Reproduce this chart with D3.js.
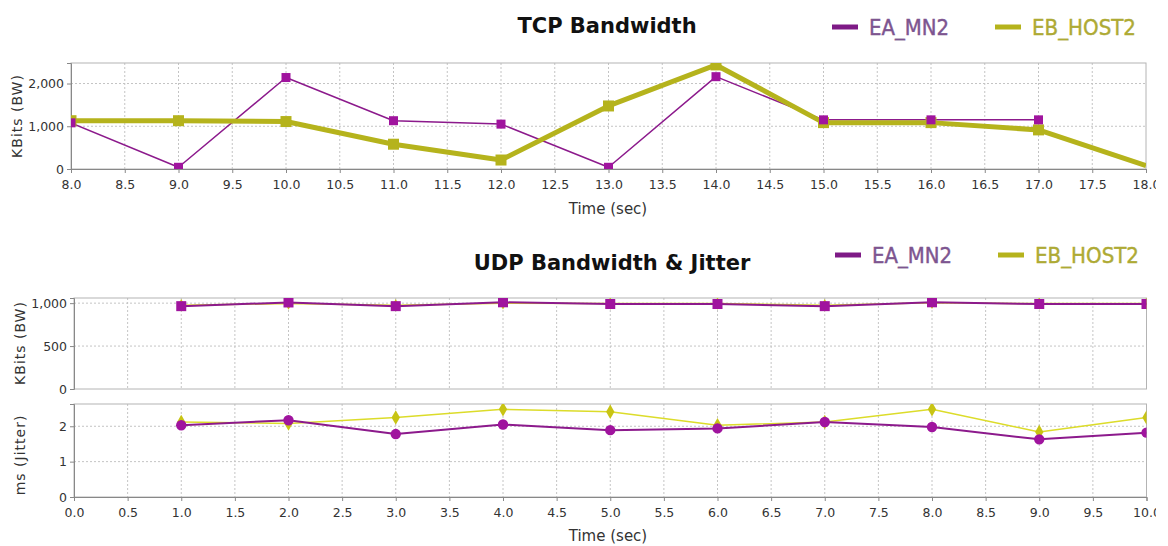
<!DOCTYPE html>
<html>
<head>
<meta charset="utf-8">
<script src="https://cdn.jsdelivr.net/npm/d3@7"></script>
<style>
  html, body { margin: 0; padding: 0; background: #fff; }
  svg { display: block; }
  .tick text { font-family: "DejaVu Sans", sans-serif; font-size: 12.5px; fill: #333; }
  .axis path, .axis line { stroke: #888; }
</style>
</head>
<body>
<svg id="chart" width="1168" height="546"></svg>
<script>
// ---- TCP bandwidth (KBits) ----
const tcpTime = [8, 9, 10, 11, 12, 13, 14, 15, 16, 17, 18];
const tcpEA = [1080, 40, 2140, 1130, 1050, 40, 2160, 1150, 1150, 1150, null];
const tcpEB = [1130, 1130, 1110, 580, 210, 1475, 2435, 1085, 1085, 915, 80];

// ---- UDP bandwidth (KBits) and jitter (ms) ----
const udpTime = [1, 2, 3, 4, 5, 6, 7, 8, 9, 10];
const udpBwEA = [965, 1008, 965, 1010, 990, 990, 965, 1010, 990, 990];
const udpBwEB = [975, 995, 975, 1000, 995, 995, 975, 1005, 995, 995];
const jitEA = [2.03, 2.17, 1.78, 2.05, 1.89, 1.94, 2.12, 1.98, 1.63, 1.82];
const jitEB = [2.12, 2.08, 2.25, 2.48, 2.41, 2.03, 2.12, 2.48, 1.84, 2.25];

const seriesNames = ["EA_MN2", "EB_HOST2"];
const tcpXTicks = d3.range(8, 18.01, 0.5);
const udpXTicks = d3.range(0, 10.01, 0.5);
const tcpYTicks = [0, 1000, 2000];
const bwYTicks = [0, 500, 1000];
const jitYTicks = [0, 1, 2];

const PURPLE_LINE = "#8c1a8c";
const PURPLE_MARK = "#a0149e";
const OLIVE = "#b5b31c";
const YELLOW = "#dcdc2a";
const YELLOW_MARK = "#c8c414";

const svg = d3.select("#chart");
const defs = svg.append("defs");
defs.append("clipPath").attr("id", "page").append("rect")
  .attr("x", 0).attr("y", 0).attr("width", 1156).attr("height", 546);
const root = svg.append("g").attr("clip-path", "url(#page)");

const fmtX = d3.format(".1f");
const fmtY = d3.format(",");

let clipCount = 0;
function panel(opts) {
  const { left, right, top, bottom, xDomain, yDomain, xTicks, yTicks, yFmt, showX } = opts;
  const x = d3.scaleLinear().domain(xDomain).range([left, right]);
  const y = d3.scaleLinear().domain(yDomain).range([bottom, top]);
  const id = "plot" + (clipCount++);
  defs.append("clipPath").attr("id", id).append("rect")
    .attr("x", left).attr("y", top).attr("width", right - left).attr("height", bottom - top);

  const g = root.append("g");
  // grid
  g.append("g").selectAll("line").data(xTicks.filter(t => t > xDomain[0] && t < xDomain[1]))
    .join("line")
    .attr("x1", d => x(d)).attr("x2", d => x(d)).attr("y1", top).attr("y2", bottom)
    .attr("stroke", "#c4c4c4").attr("stroke-dasharray", "2,2");
  g.append("g").selectAll("line").data(yTicks.filter(t => t > yDomain[0]))
    .join("line")
    .attr("x1", left).attr("x2", right).attr("y1", d => y(d)).attr("y2", d => y(d))
    .attr("stroke", "#c4c4c4").attr("stroke-dasharray", "2,2");
  // plot frame
  g.append("rect").attr("x", left).attr("y", top).attr("width", right - left).attr("height", bottom - top)
    .attr("fill", "none").attr("stroke", "#b4b4b4");

  // axes
  const ya = g.append("g").attr("class", "axis").attr("transform", `translate(${left},0)`)
    .call(d3.axisLeft(y).tickValues(yTicks).tickFormat(yFmt).tickSize(4).tickPadding(3));
  ya.select(".domain").attr("stroke", "#888");
  if (showX) {
    const xa = g.append("g").attr("class", "axis").attr("transform", `translate(0,${bottom})`)
      .call(d3.axisBottom(x).tickValues(xTicks).tickFormat(fmtX).tickSize(4).tickPadding(7));
    xa.select(".domain").attr("stroke", "#888");
  }
  const plot = g.append("g").attr("clip-path", `url(#${id})`);
  return { x, y, plot };
}

function drawLine(p, xs, ys, color, width) {
  const pts = xs.map((t, i) => [t, ys[i]]).filter(d => d[1] != null);
  p.plot.append("path").datum(pts)
    .attr("fill", "none").attr("stroke", color).attr("stroke-width", width)
    .attr("stroke-linejoin", "round")
    .attr("d", d3.line().x(d => p.x(d[0])).y(d => p.y(d[1])));
  return pts;
}
function drawSquares(p, pts, color, size) {
  p.plot.append("g").selectAll("rect").data(pts).join("rect")
    .attr("x", d => p.x(d[0]) - size / 2).attr("y", d => p.y(d[1]) - size / 2)
    .attr("width", size).attr("height", size).attr("fill", color);
}
function drawSymbols(p, pts, color, type, size) {
  p.plot.append("g").selectAll("path").data(pts).join("path")
    .attr("transform", d => `translate(${p.x(d[0])},${p.y(d[1])})`)
    .attr("d", d3.symbol().type(type).size(size)).attr("fill", color);
}

function title(text, cx, cy) {
  root.append("text").attr("x", cx).attr("y", cy).attr("text-anchor", "middle")
    .attr("font-family", "DejaVu Sans, sans-serif").attr("font-weight", "bold")
    .attr("font-size", 21).attr("fill", "#111").text(text);
}
function legend(lx, ly) {
  const items = [
    { name: seriesNames[0], line: "#7e1a86", text: "#7d5590", x: lx },
    { name: seriesNames[1], line: OLIVE, text: "#aeaa34", x: lx + 163 }
  ];
  items.forEach(it => {
    root.append("line").attr("x1", it.x).attr("x2", it.x + 26).attr("y1", ly).attr("y2", ly)
      .attr("stroke", it.line).attr("stroke-width", 5);
    root.append("text").attr("x", it.x + 37).attr("y", ly + 8)
      .attr("font-family", "DejaVu Sans Condensed, DejaVu Sans, sans-serif")
      .attr("font-size", 22).attr("fill", it.text)
      .attr("stroke", it.text).attr("stroke-width", 0.4)
      .attr("textLength", it.name.length > 6 ? 104 : 80).attr("lengthAdjust", "spacingAndGlyphs")
      .text(it.name);
  });
}
function yLabel(text, cx, cy) {
  root.append("text").attr("transform", `translate(${cx},${cy}) rotate(-90)`)
    .attr("text-anchor", "middle").attr("dy", "0.35em")
    .attr("font-family", "DejaVu Sans, sans-serif").attr("font-size", 14)
    .attr("letter-spacing", 1).attr("fill", "#333").text(text);
}
function xLabel(text, cx, cy) {
  root.append("text").attr("x", cx).attr("y", cy).attr("text-anchor", "middle")
    .attr("font-family", "DejaVu Sans, sans-serif").attr("font-size", 15)
    .attr("fill", "#333").text(text);
}

// ---- TCP panel ----
title("TCP Bandwidth", 607, 33);
legend(832, 27);
const tcp = panel({ left: 71, right: 1146, top: 63, bottom: 169, xDomain: [8, 18], yDomain: [0, 2480],
  xTicks: tcpXTicks, yTicks: tcpYTicks, yFmt: fmtY, showX: true });
const tcpEApts = drawLine(tcp, tcpTime, tcpEA, PURPLE_LINE, 1.5);
const tcpEBpts = drawLine(tcp, tcpTime, tcpEB, OLIVE, 5);
drawSquares(tcp, tcpEBpts.slice(0, -1), OLIVE, 11);
drawSquares(tcp, tcpEApts, PURPLE_MARK, 9);
yLabel("KBits (BW)", 17, 116);
xLabel("Time (sec)", 608, 214);

// ---- UDP panels ----
title("UDP Bandwidth & Jitter", 612, 270);
legend(835, 255);
const bw = panel({ left: 74, right: 1146.5, top: 298, bottom: 389, xDomain: [0, 10], yDomain: [0, 1060],
  xTicks: udpXTicks, yTicks: bwYTicks, yFmt: fmtY, showX: false });
const bwEBpts = drawLine(bw, udpTime, udpBwEB, YELLOW, 1.5);
drawSymbols(bw, bwEBpts, YELLOW_MARK, d3.symbolDiamond, 45);
const bwEApts = drawLine(bw, udpTime, udpBwEA, PURPLE_LINE, 2);
drawSquares(bw, bwEApts, PURPLE_MARK, 10);

const jit = panel({ left: 74, right: 1146.5, top: 404, bottom: 497, xDomain: [0, 10], yDomain: [0, 2.63],
  xTicks: udpXTicks, yTicks: jitYTicks, yFmt: d3.format("d"), showX: true });
const jitEBpts = drawLine(jit, udpTime, jitEB, YELLOW, 1.5);
drawSymbols(jit, jitEBpts, YELLOW_MARK, d3.symbolDiamond, 60);
const jitEApts = drawLine(jit, udpTime, jitEA, PURPLE_LINE, 2);
drawSymbols(jit, jitEApts, PURPLE_MARK, d3.symbolCircle, 85);

yLabel("KBits (BW)", 20, 343);
yLabel("ms (Jitter)", 20, 455);
xLabel("Time (sec)", 608, 541);
</script>
</body>
</html>
